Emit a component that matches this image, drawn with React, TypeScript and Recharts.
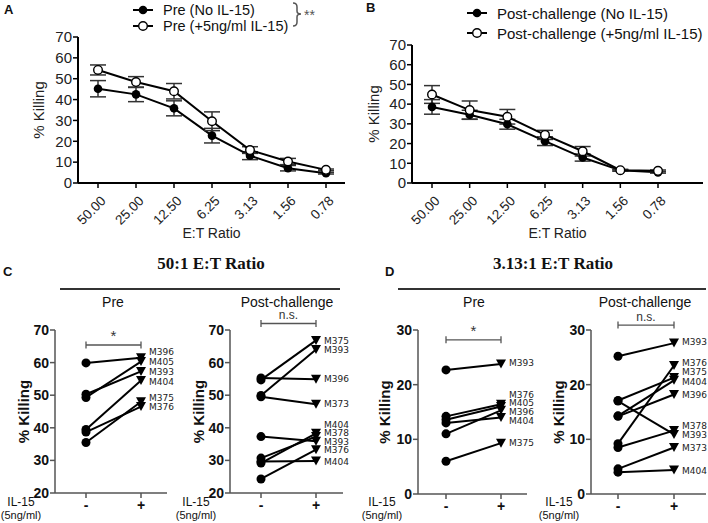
import React from 'react'
import { LineChart, Line, XAxis, YAxis, ErrorBar, Legend, ReferenceLine } from 'recharts'

// Panels A/B: E:T ratio titration
const ratios = ['50.00', '25.00', '12.50', '6.25', '3.13', '1.56', '0.78']

const preNoIl15 = [45.2, 42.5, 35.8, 22.7, 13.1, 7.1, 4.7]
const preNoIl15Err = [3.9, 3.5, 3.6, 3.5, 1.9, 1.3, 0.4]
const preIl15 = [54.2, 48.4, 44.0, 29.6, 15.8, 10.3, 6.3]
const preIl15Err = [2.4, 2.6, 3.7, 4.5, 1.6, 1.5, 0.4]

const postNoIl15 = [38.6, 34.6, 29.8, 21.2, 12.9, 6.4, 5.4]
const postNoIl15Err = [3.7, 2.3, 2.5, 2.2, 1.8, 0.4, 0.4]
const postIl15 = [44.9, 37.0, 33.6, 24.4, 16.1, 6.5, 6.2]
const postIl15Err = [4.5, 4.6, 3.7, 2.3, 2.4, 0.4, 0.4]

const killTicks70 = [0, 10, 20, 30, 40, 50, 60, 70]

// Panels C/D: paired animals, without (-) and with (+) IL-15
const il15Levels = ['-', '+']

const c50PreIds = ['M396', 'M405', 'M393', 'M404', 'M375', 'M376']
const c50PreMinus = [59.9, 49.3, 50.3, 39.5, 35.5, 38.7]
const c50PrePlus = [61.5, 60.3, 57.3, 54.5, 48.0, 46.5]
const c50PreLabelAt = [63.4, 60.3, 57.2, 54.2, 49.2, 46.5]

const c50PostIds = ['M375', 'M393', 'M396', 'M373', 'M404', 'M378', 'M393', 'M376', 'M404']
const c50PostMinus = [54.7, 49.9, 55.3, 49.5, 29.2, 30.7, 37.3, 24.3, 29.7]
const c50PostPlus = [66.8, 64.0, 54.9, 47.2, 38.3, 37.3, 35.9, 33.3, 29.8]
const c50PostLabelAt = [66.7, 63.9, 54.9, 47.2, 41.0, 38.4, 35.8, 33.1, 29.6]

const d313PreIds = ['M393', 'M376', 'M405', 'M396', 'M404', 'M375']
const d313PreMinus = [22.7, 14.2, 13.6, 11.0, 13.0, 6.0]
const d313PrePlus = [23.8, 16.4, 16.0, 15.3, 14.0, 9.3]
const d313PreLabelAt = [23.9, 18.2, 16.6, 15.0, 13.4, 9.3]

const d313PostIds = ['M393', 'M376', 'M375', 'M404', 'M396', 'M378', 'M393', 'M373', 'M404']
const d313PostMinus = [25.2, 9.2, 17.1, 14.3, 14.2, 8.5, 17.0, 4.6, 4.0]
const d313PostPlus = [27.6, 23.5, 21.3, 20.8, 18.2, 11.6, 10.9, 8.5, 4.4]
const d313PostLabelAt = [27.8, 24.0, 22.3, 20.6, 18.1, 12.4, 10.8, 8.4, 4.3]

const sans = '"Liberation Sans", Arial, sans-serif'

function filledDot(props: any) {
  const { cx, cy, index } = props
  if (cx == null || cy == null) return <g key={'f' + index} />
  return <circle key={'f' + index} cx={cx} cy={cy} r={4.3} fill="#000" />
}

function openDot(props: any) {
  const { cx, cy, index } = props
  if (cx == null || cy == null) return <g key={'o' + index} />
  return <circle key={'o' + index} cx={cx} cy={cy} r={4.3} fill="#fff" stroke="#000" strokeWidth={1.4} />
}

function RatioTick(props: any) {
  const { x, y, payload } = props
  return (
    <g transform={`translate(${x + 3},${y + 6})`}>
      <text x={0} y={0} dy={8} textAnchor="end" transform="rotate(-45)" fontSize={13.5} fill="#222" fontFamily={sans}>
        {payload.value}
      </text>
    </g>
  )
}

function LegendRows({ items, rowGap, fontSize }: { items: string[]; rowGap: number; fontSize: number }) {
  return (
    <div style={{ fontFamily: sans, fontSize, color: '#111' }}>
      {items.map((label, i) => (
        <div key={label} style={{ display: 'flex', alignItems: 'center', height: rowGap }}>
          <svg width={22} height={12} style={{ marginRight: 9 }}>
            <line x1={1} y1={6} x2={21} y2={6} stroke="#000" strokeWidth={2} />
            {i === 0 ? (
              <circle cx={11} cy={6} r={4.3} fill="#000" />
            ) : (
              <circle cx={11} cy={6} r={4.3} fill="#fff" stroke="#000" strokeWidth={1.4} />
            )}
          </svg>
          <span style={{ whiteSpace: 'nowrap' }}>{label}</span>
        </div>
      ))}
    </div>
  )
}

function RatioPanel({
  left,
  width,
  yAxisWidth,
  padRight,
  lower,
  lowerErr,
  upper,
  upperErr,
  names,
  legendLeft,
  legendTop,
  rowGap,
  legendFont,
  stars,
}: any) {
  const data = ratios.map((r, i) => ({
    ratio: r,
    lower: lower[i],
    lowerErr: lowerErr[i],
    upper: upper[i],
    upperErr: upperErr[i],
  }))
  return (
    <div style={{ position: 'absolute', left, top: 0 }}>
      <LineChart width={width} height={240} data={data} margin={{ top: 5, right: 5, bottom: 0, left: 0 }}>
        <XAxis
          dataKey="ratio"
          padding={{ left: 20, right: padRight }}
          axisLine={{ stroke: '#000', strokeWidth: 2 }}
          tickLine={{ stroke: '#000', strokeWidth: 1.5 }}
          tickSize={5}
          tick={<RatioTick />}
          height={57}
          interval={0}
          label={{ value: 'E:T Ratio', position: 'insideBottom', offset: 2, fontSize: 14, fill: '#222', fontFamily: sans }}
        />
        <YAxis
          domain={[0, 70]}
          ticks={killTicks70}
          interval={0}
          width={yAxisWidth}
          axisLine={{ stroke: '#000', strokeWidth: 2 }}
          tickLine={{ stroke: '#000', strokeWidth: 1.5 }}
          tickSize={5}
          tickMargin={1}
          tick={{ fontSize: 15, fill: '#222', fontFamily: sans }}
          label={{ value: '% Killing', angle: -90, position: 'center', fontSize: 15, fill: '#222', fontFamily: sans }}
        />
        <Legend
          verticalAlign="top"
          wrapperStyle={{ position: 'absolute', top: legendTop, left: legendLeft, width: 280 }}
          content={() => (
            <div style={{ position: 'relative' }}>
              <LegendRows items={names} rowGap={rowGap} fontSize={legendFont} />
              {stars && (
                <svg width={40} height={30} style={{ position: 'absolute', left: 160, top: -1 }}>
                  <path d="M1,2 Q5,2 5,6 L5,10 Q5,13 9,13 Q5,13 5,16 L5,21 Q5,25 1,25" fill="none" stroke="#555" strokeWidth={1.5} />
                  <text x={12} y={19} fontSize={14} fill="#555" fontFamily={sans}>
                    **
                  </text>
                </svg>
              )}
            </div>
          )}
        />
        <Line
          dataKey="lower"
          name={names[0]}
          stroke="#000"
          strokeWidth={2}
          dot={filledDot}
          activeDot={false}
          isAnimationActive={false}
        >
          <ErrorBar dataKey="lowerErr" width={8} stroke="#333" strokeWidth={1.5} direction="y" />
        </Line>
        <Line
          dataKey="upper"
          name={names[1]}
          stroke="#000"
          strokeWidth={2}
          dot={openDot}
          activeDot={false}
          isAnimationActive={false}
        >
          <ErrorBar dataKey="upperErr" width={8} stroke="#333" strokeWidth={1.5} direction="y" />
        </Line>
      </LineChart>
    </div>
  )
}

function pairDot(props: any) {
  const { cx, cy, index } = props
  if (cx == null || cy == null) return <g key={'p' + index} />
  if (index === 0) return <circle key={'p' + index} cx={cx} cy={cy} r={4.5} fill="#000" />
  return <path key={'p' + index} d={`M${cx - 5},${cy - 4.5}L${cx + 5},${cy - 4.5}L${cx},${cy + 4.5}Z`} fill="#000" />
}

function idLabel(text: string) {
  return (props: any) => {
    const { cx, cy, index, value } = props
    if (cx == null || cy == null || value == null) return <g key={'l' + index} />
    return (
      <text key={'l' + index} x={cx + 8} y={cy} dy="0.35em" fontSize={9} fill="#222" fontFamily='"DejaVu Sans", sans-serif'>
        {text}
      </text>
    )
  }
}

function bracket(mark: string) {
  return (props: any) => {
    const { x1, y1, x2 } = props
    if (x1 == null || y1 == null) return <g />
    return (
      <g>
        <path d={`M${x1},${y1 - 3.5}V${y1 + 3.5}M${x1},${y1}H${x2}M${x2},${y1 - 3.5}V${y1 + 3.5}`} stroke="#555" strokeWidth={1.3} fill="none" />
        <text x={(x1 + x2) / 2} y={y1 - 4} textAnchor="middle" fontSize={mark === '*' ? 15 : 12} fill="#333" fontFamily={sans}>
          {mark}
        </text>
      </g>
    )
  }
}

function PairedPanel({ left, width, yAxisWidth, marginRight, padLeft, padRight, domain, ticks, ids, minus, plus, labelAt, mark, markAt, marginBottom }: any) {
  const data = il15Levels.map((lvl, i) => {
    const row: any = { lvl }
    ids.forEach((_: string, s: number) => {
      row['s' + s] = i === 0 ? minus[s] : plus[s]
      row['l' + s] = i === 0 ? null : labelAt[s]
    })
    return row
  })
  const axisStyle = { stroke: '#555', strokeWidth: 1.5 }
  return (
    <div style={{ position: 'absolute', left, top: 300 }}>
      <LineChart width={width} height={223} data={data} margin={{ top: 30, right: marginRight, bottom: marginBottom, left: 0 }}>
        <XAxis
          dataKey="lvl"
          padding={{ left: padLeft, right: padRight }}
          axisLine={axisStyle}
          tickLine={axisStyle}
          tickSize={5}
          tickMargin={2}
          height={25}
          interval={0}
          tick={{ fontSize: 14, fontWeight: 'bold', fill: '#111', fontFamily: sans }}
        />
        <YAxis
          domain={domain}
          ticks={ticks}
          interval={0}
          width={yAxisWidth}
          allowDataOverflow
          axisLine={axisStyle}
          tickLine={axisStyle}
          tickSize={5}
          tickMargin={1}
          tick={{ fontSize: 14, fontWeight: 'bold', fill: '#111', fontFamily: sans }}
          label={{ value: '% Killing', angle: -90, position: 'center', dx: -4, fontSize: 15, fontWeight: 'bold', fill: '#111', fontFamily: sans }}
        />
        <ReferenceLine
          segment={[
            { x: '-', y: markAt },
            { x: '+', y: markAt },
          ]}
          ifOverflow="visible"
          shape={bracket(mark)}
        />
        {ids.map((id: string, s: number) => (
          <Line
            key={'s' + s}
            dataKey={'s' + s}
            name={id}
            stroke="#000"
            strokeWidth={2}
            dot={pairDot}
            activeDot={false}
            isAnimationActive={false}
          />
        ))}
        {ids.map((id: string, s: number) => (
          <Line
            key={'l' + s}
            dataKey={'l' + s}
            stroke="none"
            dot={idLabel(id)}
            activeDot={false}
            legendType="none"
            isAnimationActive={false}
          />
        ))}
      </LineChart>
    </div>
  )
}

const textAbs = (left: number, top: number, extra: any = {}) => ({
  position: 'absolute' as const,
  left,
  top,
  fontFamily: sans,
  color: '#111',
  whiteSpace: 'nowrap' as const,
  ...extra,
})

function Il15Caption({ center }: { center: number }) {
  return (
    <>
      <div style={textAbs(center - 30, 495, { width: 60, textAlign: 'center', fontSize: 12 })}>IL-15</div>
      <div style={textAbs(center - 30, 509, { width: 60, textAlign: 'center', fontSize: 11 })}>(5ng/ml)</div>
    </>
  )
}

export default function App() {
  return (
    <div style={{ position: 'fixed', left: 0, top: 0, width: 708, height: 523, background: '#fff', overflow: 'hidden' }}>
      <style>{'.recharts-surface{overflow:visible}.recharts-wrapper{overflow:visible}'}</style>
      <RatioPanel
        left={0}
        width={350}
        yAxisWidth={78}
        padRight={19}
        lower={preNoIl15}
        lowerErr={preNoIl15Err}
        upper={preIl15}
        upperErr={preIl15Err}
        names={['Pre (No IL-15)', 'Pre (+5ng/ml IL-15)']}
        legendLeft={132}
        legendTop={2}
        rowGap={16}
        legendFont={14.5}
        stars
      />
      <RatioPanel
        left={335}
        width={373}
        yAxisWidth={77}
        padRight={45}
        lower={postNoIl15}
        lowerErr={postNoIl15Err}
        upper={postIl15}
        upperErr={postIl15Err}
        names={['Post-challenge (No IL-15)', 'Post-challenge (+5ng/ml IL-15)']}
        legendLeft={131}
        legendTop={3}
        rowGap={20}
        legendFont={15}
      />

      <div style={textAbs(4, 2, { fontSize: 13, fontWeight: 'bold' })}>A</div>
      <div style={textAbs(366, 0, { fontSize: 13, fontWeight: 'bold' })}>B</div>
      <div style={textAbs(3, 264, { fontSize: 13, fontWeight: 'bold' })}>C</div>
      <div style={textAbs(385, 264, { fontSize: 13, fontWeight: 'bold' })}>D</div>

      <div style={textAbs(111, 254, { width: 200, textAlign: 'center', fontSize: 17, fontWeight: 'bold', fontFamily: '"Liberation Serif", serif' })}>
        50:1 E:T Ratio
      </div>
      <div style={textAbs(453, 254, { width: 200, textAlign: 'center', fontSize: 17, fontWeight: 'bold', fontFamily: '"Liberation Serif", serif' })}>
        3.13:1 E:T Ratio
      </div>
      <div style={{ position: 'absolute', left: 60, top: 288, width: 280, height: 2, background: '#333' }} />
      <div style={{ position: 'absolute', left: 398, top: 288, width: 308, height: 2, background: '#333' }} />

      <div style={textAbs(63, 294, { width: 100, textAlign: 'center', fontSize: 14 })}>Pre</div>
      <div style={textAbs(227, 294, { width: 120, textAlign: 'center', fontSize: 14 })}>Post-challenge</div>
      <div style={textAbs(424, 294, { width: 100, textAlign: 'center', fontSize: 14 })}>Pre</div>
      <div style={textAbs(585, 294, { width: 120, textAlign: 'center', fontSize: 14 })}>Post-challenge</div>

      <PairedPanel
        left={0}
        width={170}
        yAxisWidth={55}
        marginRight={3}
        padLeft={31}
        padRight={26}
        domain={[20, 70]}
        ticks={[20, 30, 40, 50, 60, 70]}
        ids={c50PreIds}
        minus={c50PreMinus}
        plus={c50PrePlus}
        labelAt={c50PreLabelAt}
        mark="*"
        markAt={65.4}
        marginBottom={5}
      />
      <PairedPanel
        left={175}
        width={170}
        yAxisWidth={55}
        marginRight={2}
        padLeft={31}
        padRight={27}
        domain={[20, 70]}
        ticks={[20, 30, 40, 50, 60, 70]}
        ids={c50PostIds}
        minus={c50PostMinus}
        plus={c50PostPlus}
        labelAt={c50PostLabelAt}
        mark="n.s."
        markAt={72}
        marginBottom={5}
      />
      <PairedPanel
        left={360}
        width={170}
        yAxisWidth={58}
        marginRight={3}
        padLeft={28}
        padRight={26}
        domain={[0, 30]}
        ticks={[0, 10, 20, 30]}
        ids={d313PreIds}
        minus={d313PreMinus}
        plus={d313PrePlus}
        labelAt={d313PreLabelAt}
        mark="*"
        markAt={28.2}
        marginBottom={4}
      />
      <PairedPanel
        left={535}
        width={173}
        yAxisWidth={56}
        marginRight={2}
        padLeft={27}
        padRight={32}
        domain={[0, 30]}
        ticks={[0, 10, 20, 30]}
        ids={d313PostIds}
        minus={d313PostMinus}
        plus={d313PostPlus}
        labelAt={d313PostLabelAt}
        mark="n.s."
        markAt={30.9}
        marginBottom={4}
      />

      <Il15Caption center={21} />
      <Il15Caption center={196} />
      <Il15Caption center={382} />
      <Il15Caption center={559} />
    </div>
  )
}
